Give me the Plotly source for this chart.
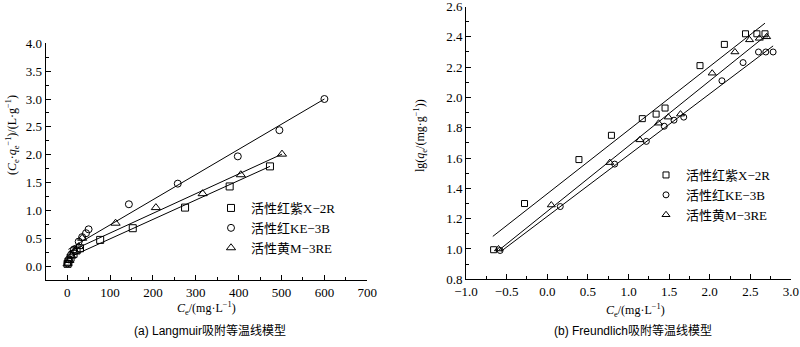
import plotly.graph_objects as go

# ---------------- Langmuir data: Ce vs Ce/qe ----------------
lang_x_x2r = [1, 3, 8, 15, 22, 30, 77, 153, 275, 379, 473]
lang_y_x2r = [0.04, 0.08, 0.15, 0.22, 0.28, 0.32, 0.47, 0.68, 1.05, 1.43, 1.79]
lang_x_ke3b = [1, 4, 9, 16, 27, 35, 44, 50, 144, 258, 398, 495, 600]
lang_y_ke3b = [0.05, 0.12, 0.2, 0.3, 0.44, 0.52, 0.59, 0.66, 1.11, 1.48, 1.97, 2.44, 3.0]
lang_x_m3re = [1, 5, 10, 18, 27, 35, 113, 207, 316, 405, 501]
lang_y_m3re = [0.04, 0.1, 0.18, 0.27, 0.35, 0.5, 0.77, 1.05, 1.30, 1.64, 2.01]

# fitted straight lines (end points)
lang_fit_x_x2r = [3, 473]
lang_fit_y_x2r = [0.15, 1.79]
lang_fit_x_ke3b = [3, 600]
lang_fit_y_ke3b = [0.3, 3.0]
lang_fit_x_m3re = [3, 501]
lang_fit_y_m3re = [0.25, 2.01]

# ---------------- Freundlich data: lg Ce vs lg qe ----------------
fr_x_x2r = [-0.66, -0.28, 0.39, 0.79, 1.17, 1.34, 1.45, 1.88, 2.18, 2.44, 2.58, 2.68]
fr_y_x2r = [0.995, 1.30, 1.59, 1.75, 1.86, 1.89, 1.93, 2.21, 2.35, 2.42, 2.42, 2.42]
fr_x_ke3b = [-0.58, 0.16, 0.83, 1.22, 1.44, 1.56, 1.68, 2.15, 2.41, 2.60, 2.69, 2.78]
fr_y_ke3b = [0.99, 1.28, 1.56, 1.71, 1.81, 1.85, 1.87, 2.11, 2.23, 2.30, 2.30, 2.30]
fr_x_m3re = [-0.60, 0.05, 0.77, 1.14, 1.37, 1.49, 1.64, 2.03, 2.31, 2.49, 2.61, 2.70]
fr_y_m3re = [1.0, 1.29, 1.57, 1.72, 1.83, 1.87, 1.89, 2.16, 2.30, 2.38, 2.39, 2.40]

fr_fit_x_x2r = [-0.67, 2.68]
fr_fit_y_x2r = [1.083, 2.49]
fr_fit_x_ke3b = [-0.57, 2.78]
fr_fit_y_ke3b = [0.984, 2.34]
fr_fit_x_m3re = [-0.60, 2.72]
fr_fit_y_m3re = [0.99, 2.42]

names = ["活性红紫X−2R", "活性红KE−3B", "活性黄M−3RE"]
symbols = ["square-open", "circle-open", "triangle-up-open"]
sizes = [7, 7, 8]

SERIF = "Liberation Serif, Noto Sans CJK SC"
SANS = "Liberation Sans, Noto Sans CJK SC"

fig = go.Figure()

lang_pts = [(lang_x_x2r, lang_y_x2r), (lang_x_ke3b, lang_y_ke3b), (lang_x_m3re, lang_y_m3re)]
lang_fits = [(lang_fit_x_x2r, lang_fit_y_x2r), (lang_fit_x_ke3b, lang_fit_y_ke3b),
             (lang_fit_x_m3re, lang_fit_y_m3re)]
fr_pts = [(fr_x_x2r, fr_y_x2r), (fr_x_ke3b, fr_y_ke3b), (fr_x_m3re, fr_y_m3re)]
fr_fits = [(fr_fit_x_x2r, fr_fit_y_x2r), (fr_fit_x_ke3b, fr_fit_y_ke3b),
           (fr_fit_x_m3re, fr_fit_y_m3re)]

for (fx, fy) in lang_fits:
    fig.add_trace(go.Scatter(x=fx, y=fy, mode="lines", line=dict(color="black", width=1),
                             showlegend=False, xaxis="x", yaxis="y"))
for (fx, fy) in fr_fits:
    fig.add_trace(go.Scatter(x=fx, y=fy, mode="lines", line=dict(color="black", width=1),
                             showlegend=False, xaxis="x2", yaxis="y2"))

for i, (px_, py_) in enumerate(lang_pts):
    fig.add_trace(go.Scatter(x=px_, y=py_, mode="markers", name=names[i],
                             marker=dict(symbol=symbols[i], size=sizes[i], color="black",
                                         line=dict(width=1, color="black")),
                             xaxis="x", yaxis="y", legend="legend"))
for i, (px_, py_) in enumerate(fr_pts):
    fig.add_trace(go.Scatter(x=px_, y=py_, mode="markers", name=names[i],
                             marker=dict(symbol=symbols[i], size=sizes[i] - 1, color="black",
                                         line=dict(width=1, color="black")),
                             xaxis="x2", yaxis="y2", legend="legend2"))

W, H = 800, 347


def px(x):
    return x / W


def py(y):
    return 1 - y / H


axis_common = dict(showline=True, linecolor="black", linewidth=1, ticks="inside",
                   ticklen=5, tickcolor="black", tickwidth=1, showgrid=False,
                   zeroline=False, automargin=False, ticklabeloverflow="allow",
                   tickfont=dict(family=SERIF, size=13, color="black"),
                   minor=dict(ticks="inside", ticklen=3, tickcolor="black", showgrid=False))

fig.update_layout(
    width=W, height=H, margin=dict(l=0, r=0, t=0, b=0, autoexpand=False),
    paper_bgcolor="white", plot_bgcolor="white",
    xaxis=dict(domain=[px(45.7), px(367.3)], range=[-50, 700], dtick=100, tick0=0,
               anchor="y", **{**axis_common, "minor": dict(axis_common["minor"], dtick=50)}),
    yaxis=dict(domain=[py(280), py(43.3)], range=[-0.25, 4.0001], dtick=0.5, tick0=0,
               tickformat=".1f", anchor="x",
               **{**axis_common, "minor": dict(axis_common["minor"], dtick=0.25)}),
    xaxis2=dict(domain=[px(466), px(791)], range=[-1, 3.0001], dtick=0.5, tick0=0,
                tickformat=".1f", anchor="y2",
                **{**axis_common, "minor": dict(axis_common["minor"], dtick=0.25)}),
    yaxis2=dict(domain=[py(279.3), py(6.5)], range=[0.7999, 2.6001], dtick=0.2, tick0=0.8,
                tickformat=".1f", anchor="x2",
                **{**axis_common, "minor": dict(axis_common["minor"], dtick=0.1)}),
    legend=dict(x=px(211), y=py(193), xanchor="left", yanchor="top",
                bgcolor="rgba(0,0,0,0)", font=dict(family=SERIF, size=13, color="black"),
                tracegroupgap=0, itemwidth=30),
    legend2=dict(x=px(646), y=py(160), xanchor="left", yanchor="top",
                 bgcolor="rgba(0,0,0,0)", font=dict(family=SERIF, size=13, color="black"),
                 tracegroupgap=0, itemwidth=30),
    showlegend=True,
)

annos = [
    dict(text="(<i>C</i><sub>e</sub>·<i>q</i><sub>e</sub><sup>−1</sup>)/(L·g<sup>−1</sup>)",
         x=px(13), y=py(135), textangle=-90, size=12, fam=SERIF),
    dict(text="lg(<i>q</i><sub>e</sub>/(mg·g<sup>−1</sup>))",
         x=px(420), y=py(136), textangle=-90, size=12, fam=SERIF),
    dict(text="<i>C</i><sub>e</sub>/(mg·L<sup>−1</sup>)",
         x=px(207), y=py(308), textangle=0, size=12, fam=SERIF),
    dict(text="<i>C</i><sub>e</sub>/(mg·L<sup>−1</sup>)",
         x=px(635), y=py(310), textangle=0, size=12, fam=SERIF),
    dict(text="(a) Langmuir吸附等温线模型", x=px(210), y=py(331), textangle=0, size=12, fam=SANS),
    dict(text="(b) Freundlich吸附等温线模型", x=px(633), y=py(331), textangle=0, size=12, fam=SANS),
]
for a in annos:
    fig.add_annotation(text=a["text"], x=a["x"], y=a["y"], xref="paper", yref="paper",
                       showarrow=False, textangle=a["textangle"], xanchor="center",
                       yanchor="middle", font=dict(family=a["fam"], size=a["size"], color="black"))

fig.write_html("out.html")
